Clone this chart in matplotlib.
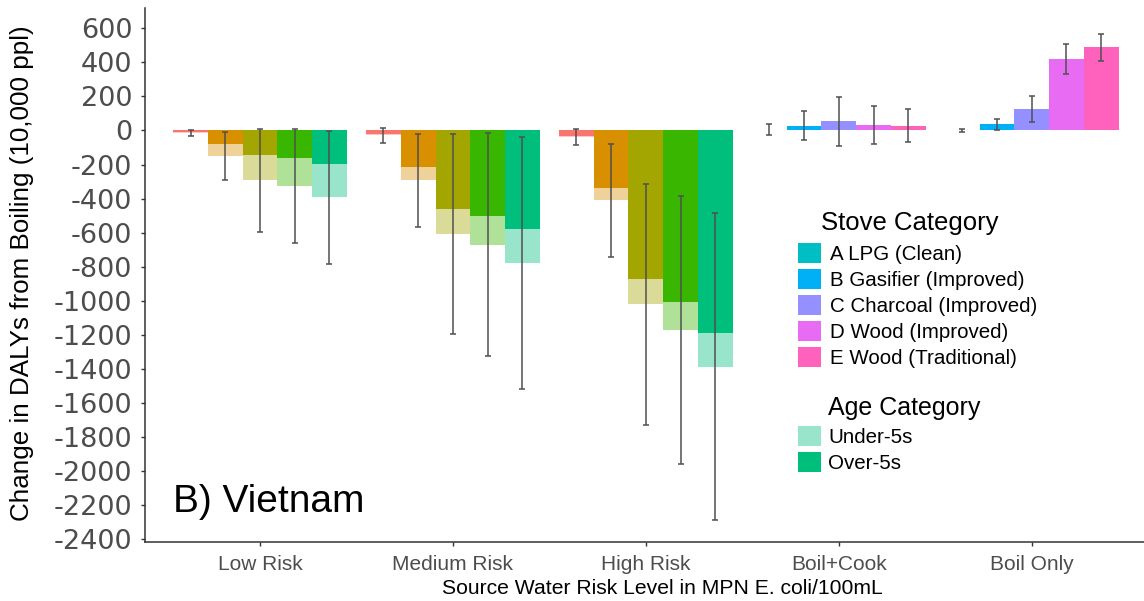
import matplotlib
matplotlib.use("Agg")
import matplotlib.pyplot as plt
import numpy as np
from matplotlib.patches import Patch
from matplotlib.transforms import ScaledTranslation

plt.rcParams["font.family"] = ["Liberation Sans", "DejaVu Sans"]
plt.rcParams["axes.unicode_minus"] = False

# ---------------- data ----------------
categories = ["Low Risk", "Medium Risk", "High Risk", "Boil+Cook", "Boil Only"]
stove_labels = ["A LPG (Clean)", "B Gasifier (Improved)", "C Charcoal (Improved)",
                "D Wood (Improved)", "E Wood (Traditional)"]
age_labels = ["Under-5s", "Over-5s"]

# Over-5s contribution (dark part of bars)
over5_low = [-10, -78, -147, -162, -199]
over5_medium = [-20, -215, -459, -504, -581]
over5_high = [-30, -338, -874, -1007, -1190]
over5_boilcook = [5, 27, 53, 33, 27]
over5_boilonly = [1, 36, 127, 418, 487]

# Under-5s contribution (light part, stacked beyond the over-5s part)
under5_low = [-5, -73, -146, -163, -194]
under5_medium = [-9, -78, -147, -166, -199]
under5_high = [-9, -73, -146, -165, -196]
under5_boilcook = [0, 0, 0, 0, 0]
under5_boilonly = [0, 0, 0, 0, 0]

# Error bar half-widths (around the total)
err_low = [20, 142, 303, 336, 389]
err_medium = [43, 274, 587, 655, 740]
err_high = [49, 330, 707, 787, 901]
err_boilcook = [31, 85, 143, 113, 97]
err_boilonly = [8, 34, 78, 87, 80]

y_ticks = list(range(600, -2401, -200))

# ---------------- styles ----------------
hue10 = ["#F8766D", "#D89000", "#A3A500", "#39B600", "#00BF7D",
         "#00BFC4", "#00B0F6", "#9590FF", "#E76BF3", "#FF62BC"]
group_palette = [hue10[:5], hue10[:5], hue10[:5], hue10[5:], hue10[5:]]
stove_colors = hue10[5:]
age_colors = ["#99E5CB", "#00BF7D"]

over5 = [over5_low, over5_medium, over5_high, over5_boilcook, over5_boilonly]
under5 = [under5_low, under5_medium, under5_high, under5_boilcook, under5_boilonly]
errs = [err_low, err_medium, err_high, err_boilcook, err_boilonly]

W, H = 1144, 601
fig = plt.figure(figsize=(W / 100, H / 100), dpi=100)
L, R, T, B = 145, 1144, 8.3, 542
ax = fig.add_axes([L / W, 1 - B / H, (R - L) / W, (B - T) / H])

bw = 0.18
for gi in range(len(categories)):
    for j in range(5):
        x = gi + (j - 2) * bw
        o = over5[gi][j]
        tot = o + under5[gi][j]
        c = group_palette[gi][j]
        ax.bar(x, tot, width=bw, color=c, alpha=0.4, linewidth=0, zorder=2)
        ax.bar(x, o, width=bw, color=c, linewidth=0, zorder=3)
        ax.errorbar(x, tot, yerr=errs[gi][j], fmt="none", ecolor="#505050",
                    elinewidth=1.1, capsize=2.5, capthick=1.1, zorder=4)

ax.set_xlim(-0.596, 4.582)
ax.set_ylim(-2416, 717)
ax.set_yticks(y_ticks)
ax.set_yticklabels([str(v) for v in y_ticks], fontsize=19.5, family="DejaVu Sans",
                   color="#4D4D4D")
ax.set_xticks(range(len(categories)))
ax.set_xticklabels(categories, fontsize=15, color="#4D4D4D")
label_offsets_px = [11.7, 18.7, 27.8, 33.7, 40.3]
for lab, dx in zip(ax.get_xticklabels(), label_offsets_px):
    lab.set_transform(lab.get_transform() + ScaledTranslation(dx / 100, 0, fig.dpi_scale_trans))

for s in ["top", "right"]:
    ax.spines[s].set_visible(False)
for s in ["left", "bottom"]:
    ax.spines[s].set_color("#333333")
    ax.spines[s].set_linewidth(1.1)
ax.tick_params(axis="y", length=3, width=1, color="#333333", pad=6)
ax.tick_params(axis="x", length=3, width=1, color="#333333", pad=6)

fig.text(22 / W, 1 - 273 / H, "Change in DALYs from Boiling (10,000 ppl)", rotation=90,
         ha="center", va="center", fontsize=18.7, color="black")
fig.text(662.5 / W, 1 - 588 / H, "Source Water Risk Level in MPN E. coli/100mL",
         ha="center", va="center", fontsize=15.2, color="black")
fig.text(172.7 / W, 1 - 511.7 / H, "B) Vietnam", ha="left", va="baseline",
         fontsize=28, color="black")

# Legends
fig.text(820.7 / W, 1 - 222.7 / H, "Stove Category", ha="left", va="center",
         fontsize=18.5, color="black")
h1 = [Patch(facecolor=c, edgecolor="none") for c in stove_colors]
leg1 = ax.legend(h1, stove_labels, loc="upper left",
                 bbox_to_anchor=(798 / W, 1 - 243 / H), bbox_transform=fig.transFigure,
                 frameon=False, fontsize=14.8, handlelength=1.12, handleheight=1.12,
                 handletextpad=0.45, labelspacing=0.25, borderpad=0, borderaxespad=0)
ax.add_artist(leg1)

fig.text(828 / W, 1 - 408 / H, "Age Category", ha="left", va="center",
         fontsize=18, color="black")
h2 = [Patch(facecolor=c, edgecolor="none") for c in age_colors]
leg2 = ax.legend(h2, age_labels, loc="upper left",
                 bbox_to_anchor=(798 / W, 1 - 426 / H), bbox_transform=fig.transFigure,
                 frameon=False, fontsize=14.8, handlelength=1.12, handleheight=1.12,
                 handletextpad=0.35, labelspacing=0.25, borderpad=0, borderaxespad=0)

fig.savefig("out.png", dpi=100)
